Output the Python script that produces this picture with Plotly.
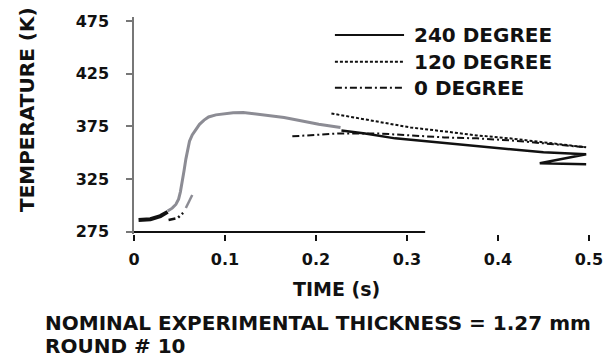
import plotly.graph_objects as go

# ---------------- data ----------------
# grey trace (early rise of the measurement)
grey_t = [0.037, 0.042, 0.046, 0.049, 0.051, 0.053, 0.055, 0.057, 0.059, 0.061, 0.064, 0.068,
          0.072, 0.077, 0.082, 0.090, 0.100, 0.109, 0.120, 0.133, 0.146, 0.165, 0.182, 0.203, 0.227]
grey_T = [294.8, 297.5, 301.0, 306.0, 313.0, 322.0, 333.0, 344.0, 354.0, 361.0, 367.0, 372.5,
          377.0, 381.0, 384.0, 386.0, 387.2, 388.0, 388.2, 387.0, 385.4, 383.5, 380.7, 377.0, 374.0]
grey_small_t = [0.057, 0.064]
grey_small_T = [297.6, 310.0]

# 240 degree (solid)
deg240_t_early = [0.005, 0.018, 0.029, 0.037]
deg240_T_early = [286.3, 287.0, 290.0, 294.0]
deg240_t = [0.228, 0.254, 0.287, 0.334, 0.377, 0.413, 0.450, 0.497, 0.446, 0.497]
deg240_T = [371.2, 368.4, 363.7, 359.9, 357.0, 354.2, 350.5, 348.6, 340.1, 339.2]

# 120 degree (dotted)
deg120_t = [0.217, 0.250, 0.279, 0.304, 0.341, 0.377, 0.413, 0.450, 0.486, 0.497]
deg120_T = [387.3, 382.5, 377.8, 374.0, 370.3, 366.5, 363.7, 360.0, 357.0, 355.2]

# 0 degree (dash-dot)
deg0_t_early = [0.038, 0.048, 0.054]
deg0_T_early = [286.3, 288.2, 293.0]
deg0_t = [0.174, 0.203, 0.225, 0.268, 0.304, 0.341, 0.377, 0.413, 0.450, 0.497]
deg0_T = [365.6, 367.5, 368.4, 368.4, 366.5, 364.6, 363.7, 361.8, 359.0, 355.2]

# drawn extent of the time axis line
x_axis_line_t = [0.0, 0.32]
x_axis_line_T = [275, 275]

x_ticks = [0, 0.1, 0.2, 0.3, 0.4, 0.5]
x_ticklabels = ["0", "0.1", "0.2", "0.3", "0.4", "0.5"]
y_ticks = [275, 325, 375, 425, 475]
y_ticklabels = ["275", "325", "375", "425", "475"]

legend_names = ["240 DEGREE", "120 DEGREE", "0 DEGREE"]
legend_dashes = ["solid", "3px,2px", "7px,3px,2px,3px"]

FONT = "DejaVu Sans"
BLACK = "#111111"
GREY = "#8c8c94"

fig = go.Figure()

fig.add_trace(go.Scatter(x=x_axis_line_t, y=x_axis_line_T, mode="lines",
                         line=dict(color=BLACK, width=2), showlegend=False, hoverinfo="skip"))
fig.add_trace(go.Scatter(x=grey_t, y=grey_T, mode="lines",
                         line=dict(color=GREY, width=3), showlegend=False))
fig.add_trace(go.Scatter(x=grey_small_t, y=grey_small_T, mode="lines",
                         line=dict(color=GREY, width=2.5), showlegend=False))
fig.add_trace(go.Scatter(x=deg240_t_early, y=deg240_T_early, mode="lines",
                         line=dict(color=BLACK, width=4), showlegend=False))
fig.add_trace(go.Scatter(x=deg240_t, y=deg240_T, mode="lines",
                         line=dict(color=BLACK, width=2.5), showlegend=False))
fig.add_trace(go.Scatter(x=deg120_t, y=deg120_T, mode="lines",
                         line=dict(color=BLACK, width=2, dash=legend_dashes[1]), showlegend=False))
fig.add_trace(go.Scatter(x=deg0_t_early, y=deg0_T_early, mode="lines",
                         line=dict(color=BLACK, width=2.5, dash=legend_dashes[2]), showlegend=False))
fig.add_trace(go.Scatter(x=deg0_t, y=deg0_T, mode="lines",
                         line=dict(color=BLACK, width=2, dash=legend_dashes[2]), showlegend=False))

# manual legend (long sample lines as in the original)
legend_y = [0.917, 0.794, 0.674]
for name, dash, ly in zip(legend_names, legend_dashes, legend_y):
    fig.add_shape(type="line", xref="paper", yref="paper", x0=0.433, x1=0.582, y0=ly, y1=ly,
                  line=dict(color=BLACK, width=2 if dash != "solid" else 2.2, dash=dash))
    fig.add_annotation(xref="paper", yref="paper", x=0.600, y=ly, text=name, showarrow=False,
                       xanchor="left", yanchor="middle",
                       font=dict(family=FONT, size=20, color=BLACK, weight="bold"))

# axis titles and notes
fig.add_annotation(xref="paper", yref="paper", x=0.437, y=-0.252, text="TIME (s)", showarrow=False,
                   xanchor="center", yanchor="middle",
                   font=dict(family=FONT, size=19, color=BLACK, weight="bold"))
fig.add_annotation(xref="paper", yref="paper", x=-0.232, y=0.573, text="TEMPERATURE (K)",
                   showarrow=False, textangle=-90, xanchor="center", yanchor="middle",
                   font=dict(family=FONT, size=20, color=BLACK, weight="bold"))
fig.add_annotation(xref="paper", yref="paper", x=-0.197, y=-0.408,
                   text="NOMINAL EXPERIMENTAL THICKNESS = 1.27 mm", showarrow=False,
                   xanchor="left", yanchor="middle",
                   font=dict(family=FONT, size=20, color=BLACK, weight="bold"))
fig.add_annotation(xref="paper", yref="paper", x=-0.197, y=-0.518, text="ROUND # 10",
                   showarrow=False, xanchor="left", yanchor="middle",
                   font=dict(family=FONT, size=20, color=BLACK, weight="bold"))

fig.update_layout(
    width=615, height=364,
    margin=dict(l=134, r=12, t=16, b=130),
    paper_bgcolor="white", plot_bgcolor="white",
    showlegend=False,
)
fig.update_xaxes(range=[0, 0.51], tickvals=x_ticks, ticktext=x_ticklabels,
                 showgrid=False, zeroline=False, showline=False,
                 ticks="outside", ticklen=6, tickwidth=1.5, tickcolor=BLACK,
                 ticklabelstandoff=5,
                 tickfont=dict(family=FONT, size=16, color=BLACK, weight="bold"))
fig.update_yaxes(range=[273, 478.8], tickvals=y_ticks, ticktext=y_ticklabels,
                 showgrid=False, zeroline=False, showline=True, linecolor="#777777", linewidth=1.5,
                 ticks="outside", ticklen=6, tickwidth=1.5, tickcolor="#777777",
                 ticklabelstandoff=14,
                 tickfont=dict(family=FONT, size=16, color=BLACK, weight="bold"))

fig.write_html("out.html")
